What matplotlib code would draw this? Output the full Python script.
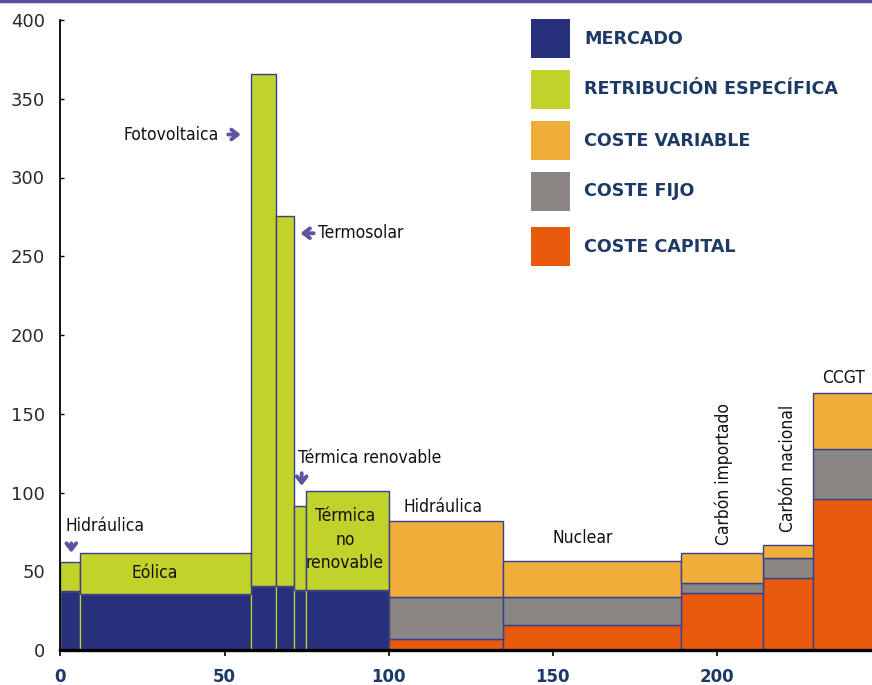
import numpy as np
import matplotlib
matplotlib.use("Agg")
import matplotlib.pyplot as plt
from matplotlib.patches import Rectangle
from matplotlib.lines import Line2D

# ---- data ----
categories = ['Hidráulica (RE)', 'Eólica', 'Fotovoltaica', 'Termosolar', 'Térmica renovable',
              'Térmica no renovable', 'Hidráulica', 'Nuclear', 'Carbón importado',
              'Carbón nacional', 'CCGT']
widths = [6.0, 52.1, 7.7, 5.3, 3.6, 25.5, 34.5, 54.2, 25.0, 15.4, 20.0]
mercado = [37.5, 35.8, 40.6, 40.6, 38.3, 38.3, 0, 0, 0, 0, 0]
retribucion = [18.5, 25.5, 325.4, 234.9, 52.9, 62.5, 0, 0, 0, 0, 0]
coste_capital = [0, 0, 0, 0, 0, 0, 7.1, 16.0, 36.0, 46.0, 95.7]
coste_fijo = [0, 0, 0, 0, 0, 0, 26.8, 17.9, 6.4, 12.7, 31.9]
coste_variable = [0, 0, 0, 0, 0, 0, 48.1, 22.3, 18.9, 7.9, 35.7]
x_ticks = [0, 50, 100, 150, 200]
y_ticks = [0, 50, 100, 150, 200, 250, 300, 350, 400]
legend_labels = ['MERCADO', 'RETRIBUCIÓN ESPECÍFICA', 'COSTE VARIABLE', 'COSTE FIJO', 'COSTE CAPITAL']

C_MER = '#28307b'
C_RE = '#c1d22a'
C_VAR = '#efae39'
C_FIJ = '#8a8684'
C_CAP = '#e85b0f'
EDGE = '#3b3d8f'
NAVY_TXT = '#1d3a66'
ARROW = '#5b55a0'

W, H = 872, 685
fig = plt.figure(figsize=(W / 100, H / 100), dpi=100)
ax = fig.add_axes([60.3 / W, 1 - 650 / H, 1 - 60.3 / W, (650 - 20) / H])

widths_a = np.array(widths)
lefts = np.concatenate([[0], np.cumsum(widths_a)[:-1]])


def draw(vals, bottom, color, edge, lw=1.0):
    vals = np.array(vals, dtype=float)
    bottom = np.array(bottom, dtype=float)
    m = vals > 0
    ax.bar(lefts[m], vals[m], width=widths_a[m], bottom=bottom[m], align='edge',
           color=color, edgecolor=edge, linewidth=lw, zorder=2)


zeros = np.zeros(len(categories))
draw(mercado, zeros, C_MER, C_RE, 0.9)
draw(retribucion, mercado, C_RE, EDGE, 1.0)
draw(coste_capital, zeros, C_CAP, EDGE, 1.0)
draw(coste_fijo, coste_capital, C_FIJ, EDGE, 1.0)
draw(coste_variable, np.array(coste_capital) + np.array(coste_fijo), C_VAR, EDGE, 1.0)

ax.set_xlim(0, (W - 60.3) / 3.284)
ax.set_ylim(0, 400)
ax.set_xticks(x_ticks)
ax.set_yticks(y_ticks)
for s in ['top', 'right']:
    ax.spines[s].set_visible(False)
ax.spines['bottom'].set_linewidth(2.4)
ax.spines['bottom'].set_color('black')
ax.spines['left'].set_linewidth(1.3)
ax.spines['left'].set_color('black')
ax.spines['bottom'].set_zorder(5)
ax.spines['left'].set_zorder(5)

ax.tick_params(axis='y', direction='in', length=3, width=1, pad=11, labelsize=13,
               labelcolor='#2a2a2a')
ax.tick_params(axis='x', direction='out', length=4, width=1.2, pad=9, labelsize=12,
               labelcolor=NAVY_TXT)
for lab in ax.get_xticklabels():
    lab.set_fontweight('bold')

# ---- annotations ----
fs = 12.5
tk = dict(fontsize=fs, family='DejaVu Sans', fontstretch='condensed', color='#111111')
arr = dict(arrowstyle='->,head_length=0.45,head_width=0.35', lw=2.8, color=ARROW)
ax.text(48.3, 327.3, 'Fotovoltaica', ha='right', va='center', **tk)
ax.annotate('', xy=(55.8, 327.3), xytext=(50.3, 327.3), arrowprops=arr)
ax.text(78.6, 264.6, 'Termosolar', ha='left', va='center', **tk)
ax.annotate('', xy=(72.3, 264.6), xytext=(78.0, 264.6), arrowprops=arr)
ax.text(72.3, 121.8, 'Térmica renovable', ha='left', va='center', **tk)
ax.annotate('', xy=(73.5, 102.5), xytext=(73.5, 114.0), arrowprops=arr)
ax.text(1.7, 78.5, 'Hidráulica', ha='left', va='center', **tk)
ax.annotate('', xy=(3.35, 60.0), xytext=(3.35, 69.5), arrowprops=arr)
ax.text(28.8, 49.2, 'Eólica', ha='center', va='center', **tk)
ax.text(86.7, 70, 'Térmica\nno\nrenovable', ha='center', va='center', linespacing=1.4, **tk)
ax.text(116.5, 90.6, 'Hidráulica', ha='center', va='center', **tk)
ax.text(159, 70.8, 'Nuclear', ha='center', va='center', **tk)
ax.text(201.9, 111.8, 'Carbón importado', ha='center', va='center', rotation=90, **tk)
ax.text(221.7, 115, 'Carbón nacional', ha='center', va='center', rotation=90, **tk)
ax.text(238.4, 172.9, 'CCGT', ha='center', va='center', **tk)

# ---- legend (drawn manually) ----
leg_colors = [C_MER, C_RE, C_VAR, C_FIJ, C_CAP]
leg_tops = [19, 70, 121, 172, 227]
for c, top, lab in zip(leg_colors, leg_tops, legend_labels):
    fig.patches.append(Rectangle((531 / W, 1 - (top + 39) / H), 39 / W, 39 / H,
                                 transform=fig.transFigure, facecolor=c, edgecolor='none'))
    fig.text(584 / W, 1 - (top + 19.5) / H, lab, ha='left', va='center', fontsize=12.6,
             fontweight='bold', color=NAVY_TXT)

fig.add_artist(Line2D([0, 1], [0.998, 0.998], color='#5c4f9c', lw=2.5,
                      transform=fig.transFigure))

fig.savefig('out.png', dpi=100)
